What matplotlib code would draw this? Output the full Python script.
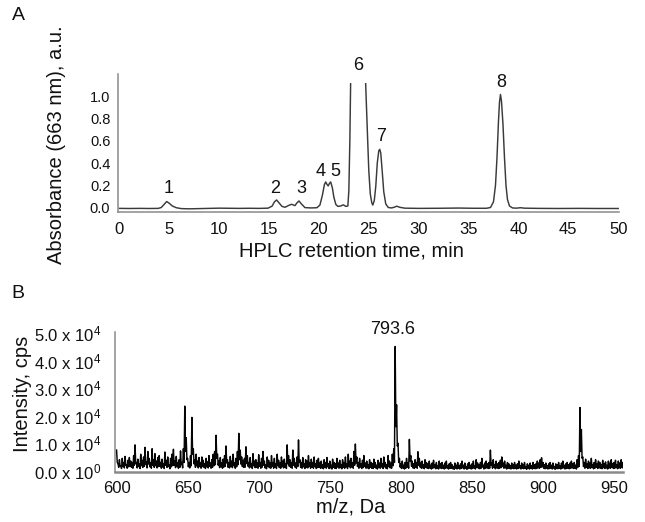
import numpy as np
import matplotlib
matplotlib.use('Agg')
import matplotlib.pyplot as plt
from matplotlib.patches import Rectangle

plt.rcParams['font.family'] = ['Liberation Sans', 'DejaVu Sans']
plt.rcParams['mathtext.default'] = 'regular'

W, H = 645, 522

# ---------------- Panel A: HPLC chromatogram ----------------
hplc_time = [0.0, 1.0, 2.0, 3.0, 3.9, 4.2, 4.5, 4.74, 5.0, 5.3, 5.7, 6.2, 7.0, 8.0,
             9.0, 10.0, 11.0, 12.0, 13.0, 14.0, 14.9, 15.3, 15.55, 15.76, 16.0, 16.3,
             16.6, 17.0, 17.26, 17.6, 17.8, 18.0, 18.25, 18.6, 19.2, 19.8, 20.1, 20.35,
             20.55, 20.68, 20.82, 20.93, 21.05, 21.18, 21.35, 21.5, 21.7, 21.9, 22.2,
             22.45, 22.7, 22.9, 23.0, 23.1, 23.18, 23.3, 23.6, 23.9, 24.2, 24.5, 24.68,
             24.85, 25.0, 25.15, 25.3, 25.4, 25.55, 25.7, 25.85, 26.0, 26.1, 26.2, 26.35,
             26.5, 26.7, 26.95, 27.3, 27.6, 27.8, 28.1, 28.6, 30.0, 32.0, 34.0, 35.5,
             36.8, 37.2, 37.5, 37.7, 37.85, 38.0, 38.1, 38.2, 38.3, 38.45, 38.6, 38.75,
             38.9, 39.1, 39.4, 39.8, 40.2, 40.6, 42.0, 44.0, 46.0, 48.0, 50.0]
hplc_abs = [-0.010, -0.011, -0.010, -0.011, -0.010, -0.002, 0.028, 0.052, 0.036, 0.012,
            -0.004, -0.012, -0.014, -0.012, -0.010, -0.008, -0.009, -0.010, -0.009,
            -0.010, -0.008, 0.010, 0.050, 0.066, 0.040, 0.008, 0.000, 0.018, 0.027,
            0.015, 0.040, 0.057, 0.030, -0.003, -0.006, -0.004, 0.020, 0.110, 0.205,
            0.229, 0.205, 0.193, 0.215, 0.229, 0.175, 0.090, 0.025, 0.008, 0.012, 0.022,
            0.008, 0.012, 0.15, 0.60, 1.13, 1.80, 2.40, 2.50, 2.20, 1.50, 1.13, 0.70,
            0.33, 0.12, 0.04, 0.020, 0.060, 0.190, 0.400, 0.510, 0.524, 0.490, 0.320,
            0.140, 0.030, -0.002, -0.006, 0.002, 0.010, 0.000, -0.008, -0.010, -0.009,
            -0.007, -0.009, -0.009, -0.002, 0.050, 0.200, 0.450, 0.780, 0.950, 1.020,
            0.960, 0.750, 0.450, 0.200, 0.070, 0.012, -0.006, -0.008, -0.004, -0.008,
            -0.010, -0.011, -0.010, -0.011, -0.011]
hplc_clip_level = 1.127  # display ceiling of the off-scale peak 6

peak_labels = ['1', '2', '3', '4', '5', '6', '7', '8']
peak_label_time = [4.9, 15.6, 18.26, 20.17, 21.67, 23.93, 26.2, 38.24]
peak_label_abs = [0.17, 0.17, 0.17, 0.32, 0.32, 1.278, 0.638, 1.127]

hplc_xticks = [0, 5, 10, 15, 20, 25, 30, 35, 40, 45, 50]
hplc_yticks = [0.0, 0.2, 0.4, 0.6, 0.8, 1.0]
hplc_yticklabels = ['0.0', '0.2', '0.4', '0.6', '0.8', '1.0']

# ---------------- Panel B: mass spectrum ----------------
mz_start = 600
# upper excursion of the signal in each 1-Da bin (x100 cps)
ms_high_hundreds = [
    75, 25, 40, 18, 45, 30, 52, 22, 38, 48,
    35, 28, 55, 94, 30, 42, 25, 60, 38, 50,
    85, 32, 70, 45, 28, 80, 40, 62, 35, 48,
    55, 30, 42, 25, 68, 38, 50, 22, 45, 60,
    78, 35, 52, 28, 40, 72, 30, 80, 235, 120,
    45, 30, 55, 194, 80, 40, 60, 35, 48, 28,
    50, 38, 25, 45, 32, 55, 28, 40, 60, 70,
    129, 60, 35, 48, 28, 42, 55, 90, 40, 30,
    52, 35, 60, 28, 45, 70, 136, 75, 50, 38,
    45, 87, 55, 30, 48, 25, 62, 35, 40, 28,
    58, 30, 45, 70, 35, 22, 50, 38, 28, 55,
    30, 45, 25, 60, 38, 28, 50, 35, 42, 25,
    94, 55, 40, 30, 75, 45, 28, 50, 112, 40,
    30, 48, 25, 40, 35, 55, 28, 42, 30, 50,
    25, 38, 45, 28, 35, 22, 40, 30, 48, 25,
    35, 20, 42, 30, 25, 45, 28, 38, 22, 40,
    30, 50, 25, 60, 35, 45, 28, 70, 97, 50,
    30, 45, 25, 38, 55, 28, 35, 22, 40, 30,
    25, 42, 30, 20, 38, 28, 45, 25, 50, 30,
    22, 55, 35, 28, 60, 80, 452, 240, 100, 45,
    25, 35, 20, 30, 45, 28, 114, 55, 35, 25,
    40, 30, 69, 45, 28, 35, 22, 40, 30, 25,
    35, 20, 28, 38, 22, 30, 18, 35, 25, 30,
    20, 28, 35, 18, 25, 30, 22, 15, 28, 20,
    30, 18, 25, 35, 20, 28, 15, 25, 30, 20,
    25, 35, 18, 40, 28, 22, 30, 45, 20, 28,
    35, 25, 30, 75, 28, 40, 22, 35, 25, 30,
    38, 50, 28, 35, 20, 30, 25, 18, 28, 22,
    30, 20, 25, 35, 18, 28, 22, 30, 15, 25,
    20, 28, 18, 30, 22, 25, 35, 28, 40, 47,
    30, 22, 28, 18, 25, 30, 20, 28, 15, 25,
    22, 30, 18, 28, 35, 20, 25, 30, 22, 28,
    35, 25, 30, 20, 40, 55, 230, 150, 50, 30,
    42, 25, 35, 28, 45, 22, 30, 40, 25, 35,
    30, 22, 38, 25, 32, 20, 35, 28, 40, 25,
    30, 38, 22, 35, 28, 40, 30]
# lower excursion of the signal in each 1-Da bin (x100 cps)
ms_low_hundreds = [
    30, 12, 18, 8, 15, 10, 20, 9, 14, 16,
    12, 9, 20, 25, 10, 15, 8, 18, 12, 16,
    22, 10, 24, 14, 9, 20, 12, 18, 10, 15,
    16, 9, 13, 8, 20, 12, 15, 7, 14, 18,
    20, 11, 16, 9, 12, 22, 10, 30, 70, 40,
    14, 10, 18, 60, 25, 12, 18, 10, 15, 9,
    15, 12, 8, 14, 10, 16, 9, 12, 18, 22,
    45, 20, 11, 14, 9, 13, 16, 28, 12, 10,
    15, 11, 18, 9, 14, 22, 40, 24, 15, 12,
    13, 26, 16, 10, 14, 8, 18, 11, 12, 9,
    16, 9, 13, 20, 10, 7, 15, 11, 9, 16,
    9, 13, 8, 18, 11, 9, 15, 10, 12, 8,
    25, 16, 12, 9, 20, 13, 9, 15, 30, 12,
    9, 14, 8, 12, 10, 16, 9, 12, 9, 15,
    8, 11, 13, 9, 10, 7, 12, 9, 14, 8,
    10, 6, 12, 9, 8, 13, 9, 11, 7, 12,
    9, 14, 8, 16, 10, 13, 9, 20, 28, 15,
    9, 13, 8, 11, 15, 9, 10, 7, 12, 9,
    8, 12, 9, 6, 11, 9, 13, 8, 14, 9,
    7, 15, 10, 9, 18, 30, 160, 90, 30, 13,
    8, 10, 6, 9, 13, 9, 35, 16, 10, 8,
    12, 9, 20, 13, 9, 10, 7, 12, 9, 8,
    10, 6, 9, 11, 7, 9, 6, 10, 8, 9,
    6, 9, 10, 6, 8, 9, 7, 5, 9, 6,
    9, 6, 8, 10, 6, 9, 5, 8, 9, 6,
    8, 10, 6, 12, 9, 7, 9, 13, 6, 9,
    10, 8, 9, 20, 9, 12, 7, 10, 8, 9,
    11, 15, 9, 10, 6, 9, 8, 6, 9, 7,
    9, 6, 8, 10, 6, 9, 7, 9, 5, 8,
    6, 9, 6, 9, 7, 8, 10, 9, 12, 14,
    9, 7, 9, 6, 8, 9, 6, 9, 5, 8,
    7, 9, 6, 9, 10, 6, 8, 9, 7, 9,
    10, 8, 9, 6, 12, 16, 70, 45, 15, 9,
    12, 8, 10, 9, 13, 7, 9, 12, 8, 10,
    9, 7, 11, 8, 10, 6, 10, 9, 12, 8,
    9, 11, 7, 10, 9, 12, 9]
ms_xticks = [600, 650, 700, 750, 800, 850, 900, 950]
ms_yticks = [0, 1e4, 2e4, 3e4, 4e4, 5e4]
ms_yticklabels = [r'0.0 x 10$^0$', r'1.0 x 10$^4$', r'2.0 x 10$^4$',
                  r'3.0 x 10$^4$', r'4.0 x 10$^4$', r'5.0 x 10$^4$']
ms_annot_text = '793.6'
ms_annot_mz = 794
ms_annot_int = 5.12e4

# ---------------- figure ----------------
fig = plt.figure(figsize=(W / 100, H / 100), dpi=100)


def px_axes(l, t, r, b):
    return fig.add_axes([l / W, 1 - b / H, (r - l) / W, (b - t) / H])


def ftext(x, y, s, **kw):
    fig.text(x / W, 1 - y / H, s, **kw)


spine_col = '#8a8a8a'
txt_col = '#111111'

# Panel A
axA = px_axes(118, 74, 619, 211.7)
line, = axA.plot(hplc_time, hplc_abs, color='#3a3a3a', lw=1.05)
clip = Rectangle((-5, -1), 60, hplc_clip_level + 1, transform=axA.transData)
line.set_clip_path(clip)
axA.set_xlim(-0.14, 50.08)
axA.set_ylim(-0.04, 1.205)
for s in ['top', 'right']:
    axA.spines[s].set_visible(False)
for s in ['left', 'bottom']:
    axA.spines[s].set_color(spine_col)
    axA.spines[s].set_linewidth(1.1)
axA.set_xticks(hplc_xticks)
axA.set_xticklabels([str(v) for v in hplc_xticks])
axA.set_yticks(hplc_yticks)
axA.set_yticklabels(hplc_yticklabels)
axA.tick_params(axis='x', length=0, pad=7.5, labelsize=12, colors=txt_col)
axA.tick_params(axis='y', length=0, pad=5.5, labelsize=10.5, colors=txt_col)
for lab, t, v in zip(peak_labels, peak_label_time, peak_label_abs):
    axA.text(t, v, lab, ha='center', va='center', fontsize=13, color=txt_col)

ftext(18, 15, 'A', fontsize=14, ha='center', va='center', color=txt_col)
ftext(57, 145, 'Absorbance (663 nm), a.u.', fontsize=14.5, rotation=90,
      ha='center', va='center', color=txt_col)
ftext(351, 251, 'HPLC retention time, min', fontsize=14.5, ha='center',
      va='center', color=txt_col)

# Panel B
axB = px_axes(115, 331.7, 623.3, 471.7)
n = len(ms_high_hundreds)
mz = np.empty(2 * n)
mz[0::2] = np.arange(mz_start, mz_start + n)
mz[1::2] = np.arange(mz_start, mz_start + n) + 0.5
intensity = np.empty(2 * n)
intensity[0::2] = np.array(ms_high_hundreds) * 100.0
intensity[1::2] = np.array(ms_low_hundreds) * 100.0
axB.plot(mz, intensity, color='#050505', lw=1.05)
axB.set_xlim(598.9, 956.5)
axB.set_ylim(-364, 50580)
for s in ['top', 'right']:
    axB.spines[s].set_visible(False)
axB.spines['left'].set_color(spine_col)
axB.spines['left'].set_linewidth(1.1)
axB.spines['bottom'].set_color(spine_col)
axB.spines['bottom'].set_linewidth(1.8)
axB.set_xticks(ms_xticks)
axB.set_xticklabels([str(v) for v in ms_xticks])
axB.set_yticks(ms_yticks)
axB.set_yticklabels(ms_yticklabels)
axB.tick_params(axis='x', length=0, pad=6.5, labelsize=12, colors=txt_col)
axB.tick_params(axis='y', length=0, pad=9.5, labelsize=12, colors=txt_col)
axB.text(ms_annot_mz, ms_annot_int, ms_annot_text, ha='center', va='center',
         fontsize=13, color=txt_col)

ftext(18, 293, 'B', fontsize=14, ha='center', va='center', color=txt_col)
ftext(23, 394, 'Intensity, cps', fontsize=14.5, rotation=90, ha='center',
      va='center', color=txt_col)
ftext(351, 507, 'm/z, Da', fontsize=14.5, ha='center', va='center', color=txt_col)

fig.savefig('out.png', dpi=100)
